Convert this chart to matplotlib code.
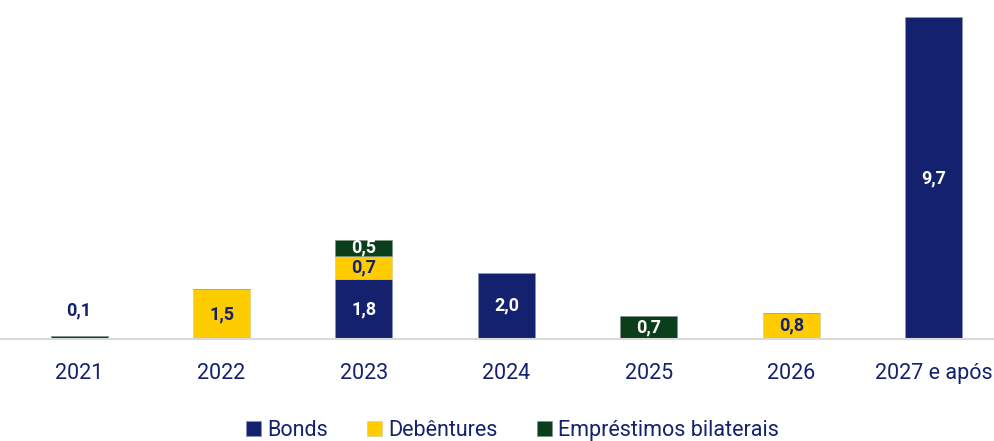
import numpy as np
import matplotlib.pyplot as plt

plt.rcParams['font.family'] = ['Roboto', 'DejaVu Sans']

# ============================================================
# Data
# ============================================================

years = ["2021", "2022", "2023", "2024", "2025", "2026", "2027 e após"]
bonds = [0.0, 0.0, 1.8, 2.0, 0.0, 0.0, 9.7]
debentures = [0.0, 1.5, 0.7, 0.0, 0.0, 0.8, 0.0]
emprestimos = [0.1, 0.0, 0.5, 0.0, 0.7, 0.0, 0.0]

navy = "#13216f"
yellow = "#ffcc00"
green = "#0b3f1c"

# ============================================================
# Plot
# ============================================================

fig = plt.figure(figsize=(9.95, 4.41), dpi=100)
ax = fig.add_axes([0.0, 0.231, 1.0, 0.753])

x = np.arange(len(years))
w = 0.4
bonds = np.array(bonds)
debentures = np.array(debentures)
emprestimos = np.array(emprestimos)

ax.bar(x, bonds, w, color=navy, label="Bonds", edgecolor="#8a93b8", linewidth=0.4)
ax.bar(x, debentures, w, bottom=bonds, color=yellow, label="Debêntures",
       edgecolor="#c9c9a0", linewidth=0.4)
ax.bar(x, emprestimos, w, bottom=bonds + debentures, color=green,
       label="Empréstimos bilaterais", edgecolor="#7f8f85", linewidth=0.4)

def fmt(v):
    return f"{v:.1f}".replace(".", ",")

for i in range(len(years)):
    base = 0.0
    for vals, tc in [(bonds, "white"), (debentures, navy), (emprestimos, "white")]:
        v = vals[i]
        if v > 0:
            if v < 0.3:
                ax.text(x[i], base + v + 0.75, fmt(v), ha="center", va="center",
                        color=navy, fontsize=13, fontweight="bold")
            else:
                ax.text(x[i], base + v / 2, fmt(v), ha="center", va="center",
                        color=tc, fontsize=13, fontweight="bold")
        base += v

ax.set_xlim(-0.555, 6.43)
ax.set_ylim(0, 10)
ax.set_xticks(x)
ax.set_xticklabels(years, fontsize=15.5, color=navy)
ax.tick_params(axis="x", length=0, pad=17)
ax.set_yticks([])
for s in ["top", "right", "left"]:
    ax.spines[s].set_visible(False)
ax.spines["bottom"].set_color("#d9d9d9")
ax.spines["bottom"].set_linewidth(1.5)

leg = ax.legend(loc="center", bbox_to_anchor=(0.515, -0.275), ncol=3,
                frameon=False, fontsize=15.5, handlelength=0.7, handleheight=0.7,
                handletextpad=0.3, columnspacing=1.8)
for t in leg.get_texts():
    t.set_color(navy)

fig.savefig("out.png", dpi=100)
